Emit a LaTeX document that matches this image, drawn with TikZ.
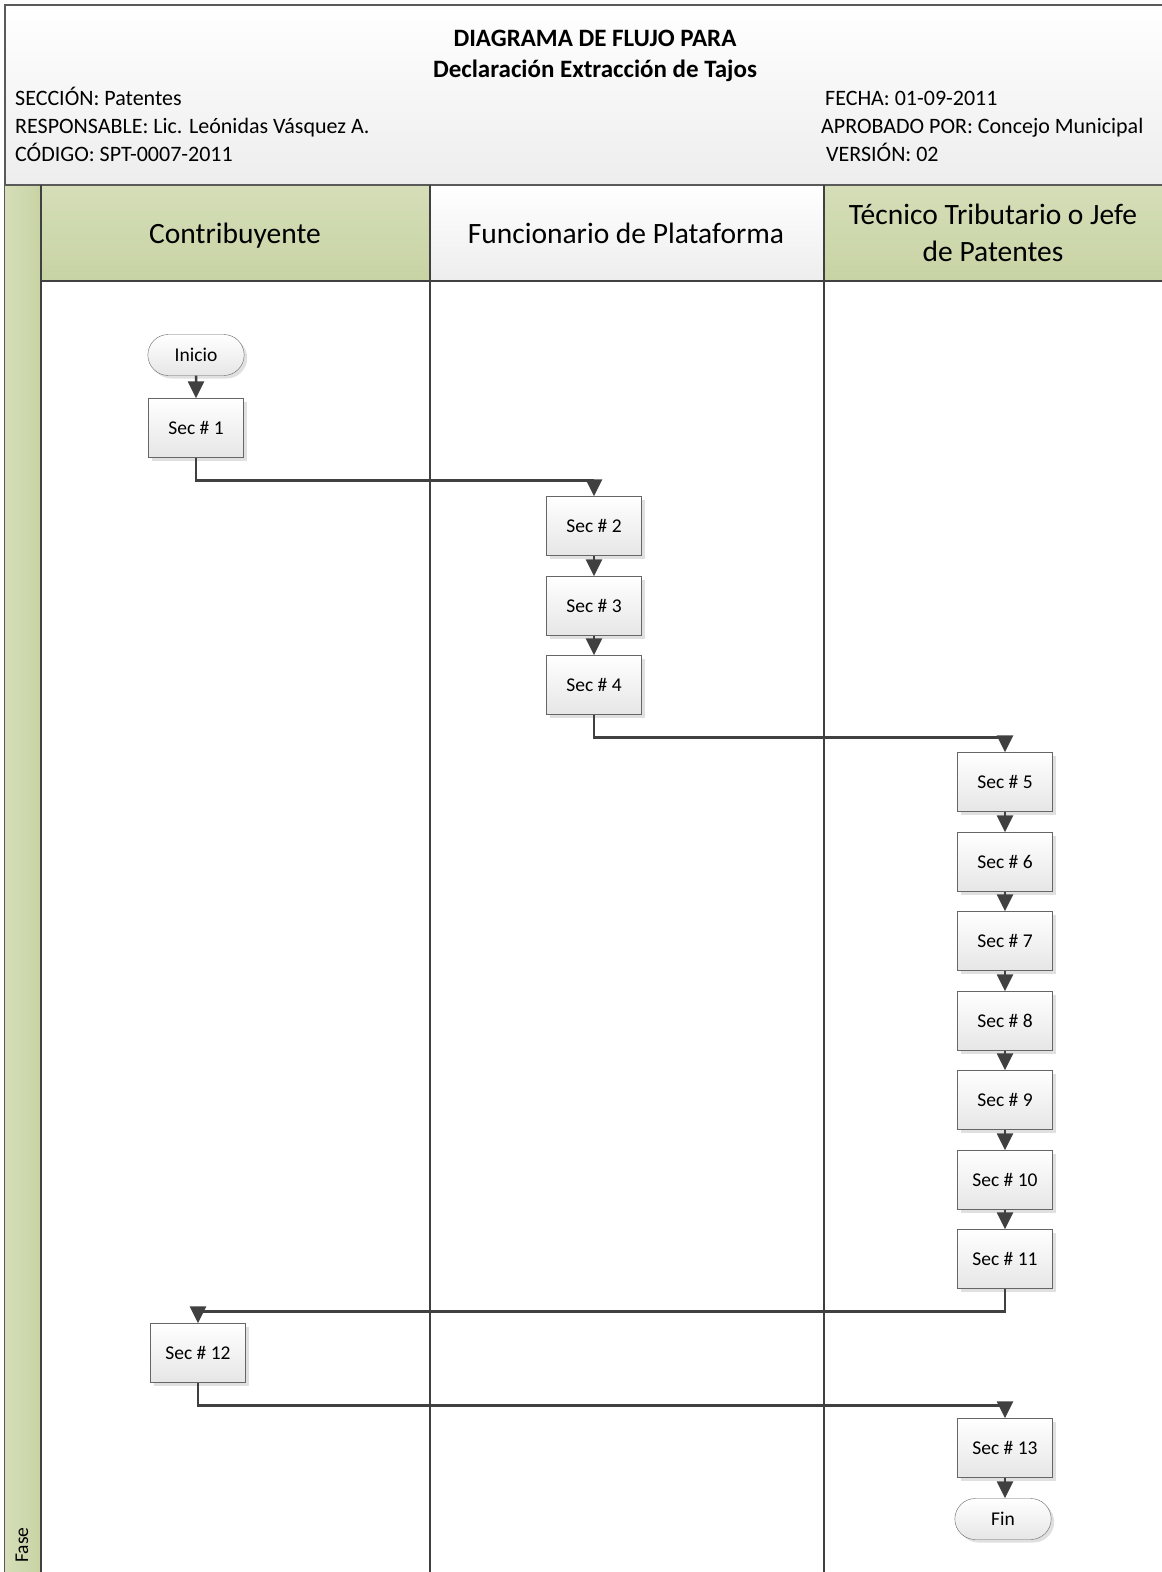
\documentclass[tikz,border=0pt]{standalone}
\usepackage{fontspec}
\setmainfont{Carlito}
\usetikzlibrary{arrows.meta,shadows,shapes.misc}

\definecolor{verde}{HTML}{D5DEB8}
\definecolor{verdeosc}{HTML}{C8D3A4}
\definecolor{gris}{HTML}{E6E6E6}
\definecolor{linea}{HTML}{404040}
\definecolor{marco}{HTML}{5A5A5A}

\tikzset{
	sec/.style={rectangle, draw=black!60, top color=white, bottom color=gris,
		minimum width=95pt, minimum height=59pt, font=\fontsize{19.5}{22}\selectfont,
		general shadow={fill=black!12, shadow xshift=3pt, shadow yshift=-3pt}},
	term/.style={sec, rounded rectangle, minimum width=103pt, minimum height=41pt},
	flujo/.style={->, line width=2.5pt, draw=linea},
	carril/.style={font=\fontsize{29.5}{37}\selectfont, align=center},
	dato/.style={anchor=base west, font=\fontsize{22}{26}\selectfont, inner sep=0pt},
}

\begin{document}
\begin{tikzpicture}[x=1pt, y=-1pt, >={Triangle[width=16pt,length=17pt]}]
		\useasboundingbox (0,0) rectangle (1162,1572);
		\clip (0,0) rectangle (1162,1572);
		% encabezado
		\shade[top color=white, bottom color=gray!14] (5,5) rectangle (1170,185);
		\draw[marco, line width=2pt] (5,1600) -- (5,5) -- (1170,5);
		\node[font=\fontsize{25}{31}\selectfont\bfseries, align=center] (titulo) at (595,56)
			{DIAGRAMA DE FLUJO PARA\\Declaración Extracción de Tajos};
		\node[dato] (seccion) at (15,105) {SECCIÓN: Patentes};
		\node[dato] (resp) at (15,133) {RESPONSABLE: Lic. Leónidas Vásquez A.};
		\node[dato] (codigo) at (15,161) {CÓDIGO: SPT-0007-2011};
		\node[dato] (fecha) at (825,105) {FECHA: 01-09-2011};
		\node[dato] (aprob) at (821,133) {APROBADO POR: Concejo Municipal};
		\node[dato] (version) at (826,161) {VERSIÓN: 02};
		% carriles
		\shade[left color=verde, right color=verdeosc] (5,185) rectangle (41,1600);
		\shade[top color=verde, bottom color=verdeosc] (41,185) rectangle (430,281);
		\shade[top color=white, bottom color=gray!14] (430,185) rectangle (824,281);
		\shade[top color=verde, bottom color=verdeosc] (824,185) rectangle (1170,281);
		\draw[marco, line width=2pt] (5,185) -- (1170,185);
		\foreach \x in {41,430,824}{
			\draw[linea, line width=1.5pt] (\x,185) -- (\x,1600);
		}
		\draw[linea, line width=1.5pt] (41,281) -- (1170,281);
		\node[rotate=90, font=\fontsize{19.5}{22}\selectfont] (fase) at (22,1545) {Fase};
		\node[carril] (contrib) at (235,236) {Contribuyente};
		\node[carril] (funcion) at (626,233) {Funcionario de Plataforma};
		\node[carril] (tecnico) at (993,233) {Técnico Tributario o Jefe\\de Patentes};
		% pasos
		\node[term] (inicio) at (196,355) {Inicio};
		\node[sec] (s1) at (196,428) {Sec \# 1};
		\node[sec] (s2) at (594,526) {Sec \# 2};
		\node[sec] (s3) at (594,606) {Sec \# 3};
		\node[sec] (s4) at (594,685) {Sec \# 4};
		\foreach \n/\y in {5/782,6/862,7/941,8/1021,9/1100,10/1180,11/1259}{
			\node[sec] (s\n) at (1005,\y) {Sec \# \n};
		}
		\node[sec] (s12) at (198,1353) {Sec \# 12};
		\node[sec] (s13) at (1005,1448) {Sec \# 13};
		\node[term] (fin) at (1003,1519) {Fin};
		% conectores
		\draw[flujo] (inicio) -- (s1);
		\draw[flujo] (s1.south) -- ++(0,23) -| (s2.north);
		\draw[flujo] (s2) -- (s3);
		\draw[flujo] (s3) -- (s4);
		\draw[flujo] (s4.south) -- ++(0,23) -| (s5.north);
		\foreach \a/\b in {5/6,6/7,7/8,8/9,9/10,10/11}{
			\draw[flujo] (s\a) -- (s\b);
		}
		\draw[flujo] (s11.south) -- ++(0,23) -| (s12.north);
		\draw[flujo] (s12.south) -- ++(0,23) -| (s13.north);
		\draw[flujo] (s13.south) -- (fin.north -| s13.south);
\end{tikzpicture}
\end{document}
